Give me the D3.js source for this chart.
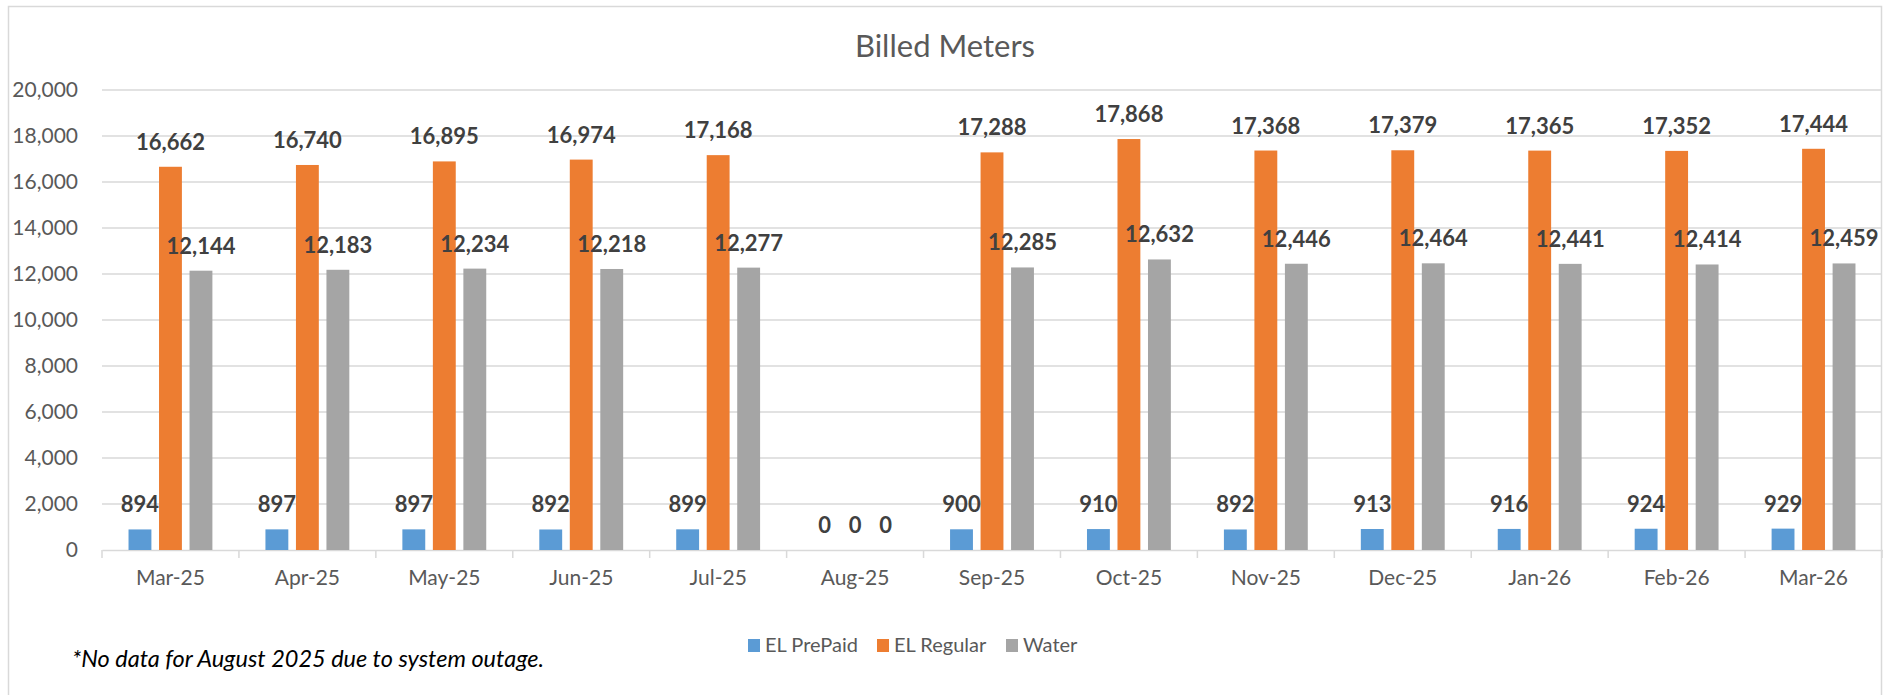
<!DOCTYPE html>
<html>
<head>
<meta charset="utf-8">
<script src="https://cdn.jsdelivr.net/npm/d3@7"></script>
<style>
  body { margin: 0; background: #fff; }
  svg { display: block; font-family: Lato, "Open Sans", sans-serif; }
</style>
</head>
<body>
<svg id="canvas" width="1896" height="695"></svg>
<script>
const months = ['Mar-25', 'Apr-25', 'May-25', 'Jun-25', 'Jul-25', 'Aug-25', 'Sep-25',
                'Oct-25', 'Nov-25', 'Dec-25', 'Jan-26', 'Feb-26', 'Mar-26']
const seriesNames = ['EL PrePaid', 'EL Regular', 'Water']
const prePaid = [894, 897, 897, 892, 899, 0, 900, 910, 892, 913, 916, 924, 929]
const regular = [16662, 16740, 16895, 16974, 17168, 0, 17288, 17868, 17368, 17379, 17365, 17352, 17444]
const water = [12144, 12183, 12234, 12218, 12277, 0, 12285, 12632, 12446, 12464, 12441, 12414, 12459]
const yTicks = [0, 2000, 4000, 6000, 8000, 10000, 12000, 14000, 16000, 18000, 20000]
const colors = ['#5b9bd5', '#ed7d31', '#a5a5a5']

let values = [prePaid, regular, water]
let canvas = d3.select('#canvas')

// chart frame
canvas.append('rect')
      .attr('x', 8.5).attr('y', 6.5)
      .attr('width', 1873).attr('height', 720)
      .attr('fill', 'none')
      .attr('stroke', '#d9d9d9')
      .attr('stroke-width', 1.5)

let xScale = d3.scaleBand()
               .domain(months)
               .range([102, 1882])
let innerScale = d3.scaleBand()
                   .domain(seriesNames)
                   .range([0, 91.5])
                   .paddingInner(0.25)
                   .paddingOuter(0.125)
let yScale = d3.scaleLinear()
               .domain([0, 20000])
               .range([550, 90])

// gridlines
canvas.append('g')
      .selectAll('line')
      .data(yTicks.filter(t => t > 0))
      .enter()
      .append('line')
      .attr('x1', 102).attr('x2', 1882)
      .attr('y1', t => yScale(t)).attr('y2', t => yScale(t))
      .attr('stroke', '#d9d9d9')
      .attr('stroke-width', 1.5)

// y axis labels
let yAxis = d3.axisLeft(yScale)
              .tickValues(yTicks)
              .tickFormat(d3.format(','))
              .tickSize(0)
              .tickPadding(24)
let yG = canvas.append('g')
               .attr('transform', 'translate(102, 0)')
               .call(yAxis)
yG.select('.domain').remove()
yG.selectAll('text')
  .attr('fill', '#595959')
  .style('font-size', '21px')
  .style('font-family', 'Lato')

// x axis
let xAxis = d3.axisBottom(xScale)
              .tickSize(0)
              .tickPadding(20)
let xG = canvas.append('g')
               .attr('transform', 'translate(0, 550)')
               .call(xAxis)
xG.select('.domain')
  .attr('stroke', '#d9d9d9')
  .attr('stroke-width', 1.5)
xG.selectAll('text')
  .attr('fill', '#595959')
  .style('font-size', '21px')
  .style('font-family', 'Lato')
// category separator ticks
xG.selectAll('.sep')
  .data(months.concat(['end']))
  .enter()
  .append('line')
  .attr('x1', (d, i) => xScale.range()[0] + i * xScale.step())
  .attr('x2', (d, i) => xScale.range()[0] + i * xScale.step())
  .attr('y1', 0).attr('y2', 8)
  .attr('stroke', '#d9d9d9')
  .attr('stroke-width', 1.5)

// bars
let groups = canvas.selectAll('.month')
                   .data(months)
                   .enter()
                   .append('g')
                   .attr('class', 'month')
                   .attr('transform', m => 'translate(' + (xScale(m) + xScale.bandwidth() / 2 - 45.75) + ', 0)')

groups.each(function(m, i) {
    let g = d3.select(this)
    let rows = seriesNames.map((s, k) => ({ series: s, value: values[k][i], color: colors[k] }))
    g.selectAll('rect')
     .data(rows)
     .enter()
     .append('rect')
     .attr('x', d => innerScale(d.series))
     .attr('y', d => yScale(d.value))
     .attr('width', innerScale.bandwidth())
     .attr('height', d => 550 - yScale(d.value))
     .attr('fill', d => d.color)
    g.selectAll('text')
     .data(rows)
     .enter()
     .append('text')
     .text(d => d3.format(',')(d.value))
     .attr('x', d => innerScale(d.series) + innerScale.bandwidth() / 2)
     .attr('y', d => yScale(d.value) - 17)
     .attr('text-anchor', 'middle')
     .attr('fill', '#404040')
     .style('font-size', '22px')
     .style('font-weight', 'bold')
})

// title
canvas.append('text')
      .text('Billed Meters')
      .attr('x', 945)
      .attr('y', 57)
      .attr('text-anchor', 'middle')
      .attr('fill', '#595959')
      .style('font-size', '31px')

// legend
let legend = canvas.append('g')
                   .attr('transform', 'translate(748, 639)')
let legendX = [0, 129, 258]
seriesNames.forEach((s, k) => {
    legend.append('rect')
          .attr('x', legendX[k]).attr('y', 0)
          .attr('width', 12).attr('height', 13)
          .attr('fill', colors[k])
    legend.append('text')
          .text(s)
          .attr('x', legendX[k] + 17)
          .attr('y', 13)
          .attr('fill', '#595959')
          .style('font-size', '20px')
})

// footnote
canvas.append('text')
      .text('*No data for August 2025 due to system outage.')
      .attr('x', 72)
      .attr('y', 667)
      .attr('fill', '#000')
      .style('font-size', '23.5px')
      .style('font-style', 'italic')
</script>
</body>
</html>
